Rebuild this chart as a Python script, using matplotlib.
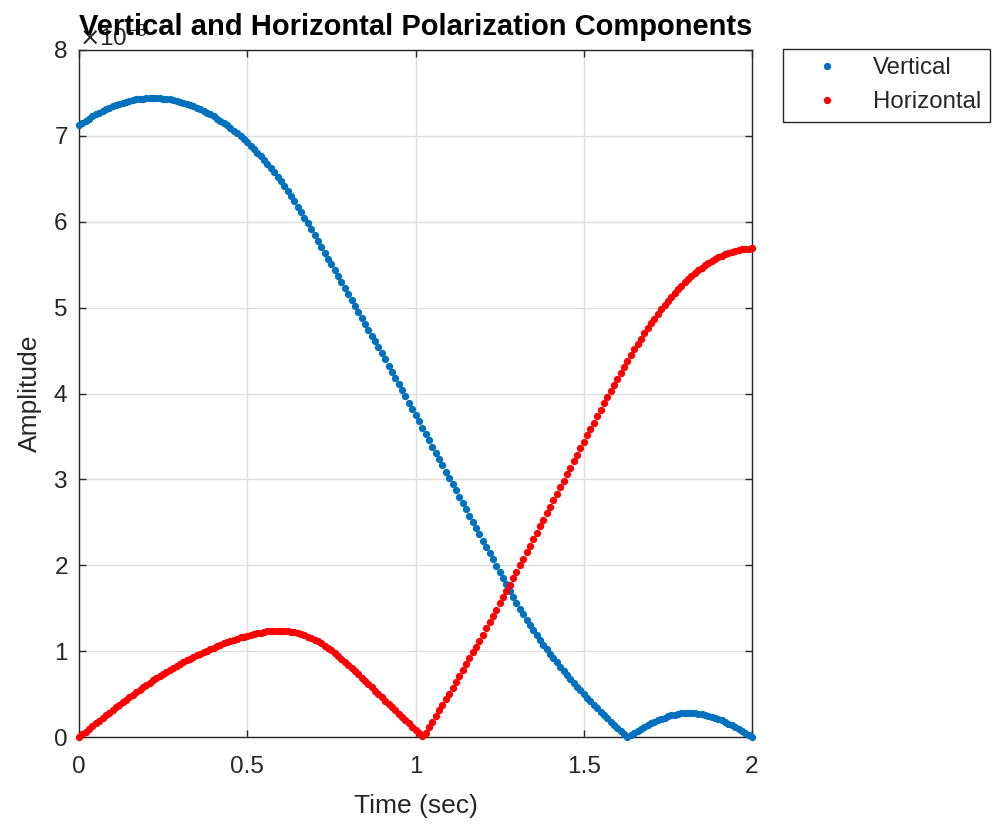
import matplotlib
matplotlib.use("Agg")
import matplotlib.pyplot as plt
import numpy as np

vertical = [
    7.121, 7.149, 7.176, 7.202, 7.226, 7.249, 7.271, 7.291, 7.311, 7.328,
    7.345, 7.360, 7.374, 7.387, 7.398, 7.408, 7.416, 7.424, 7.429, 7.434,
    7.437, 7.439, 7.440, 7.439, 7.437, 7.434, 7.429, 7.424, 7.416, 7.408,
    7.398, 7.387, 7.374, 7.360, 7.345, 7.328, 7.311, 7.291, 7.271, 7.249,
    7.226, 7.202, 7.176, 7.149, 7.121, 7.091, 7.060, 7.028, 6.994, 6.959,
    6.923, 6.885, 6.846, 6.806, 6.764, 6.721, 6.675, 6.627, 6.577, 6.525,
    6.471, 6.415, 6.357, 6.297, 6.236, 6.173, 6.109, 6.045, 5.980, 5.914,
    5.847, 5.779, 5.710, 5.641, 5.572, 5.503, 5.434, 5.365, 5.296, 5.227,
    5.158, 5.089, 5.020, 4.951, 4.882, 4.813, 4.744, 4.675, 4.606, 4.537,
    4.467, 4.397, 4.326, 4.255, 4.183, 4.111, 4.039, 3.966, 3.893, 3.820,
    3.747, 3.674, 3.601, 3.528, 3.455, 3.382, 3.309, 3.236, 3.163, 3.090,
    3.017, 2.944, 2.871, 2.798, 2.725, 2.652, 2.579, 2.506, 2.433, 2.360,
    2.287, 2.214, 2.141, 2.068, 1.995, 1.922, 1.849, 1.776, 1.704, 1.633,
    1.563, 1.495, 1.429, 1.365, 1.303, 1.243, 1.185, 1.129, 1.075, 1.022,
    0.970, 0.919, 0.869, 0.820, 0.772, 0.724, 0.677, 0.631, 0.586, 0.542,
    0.499, 0.457, 0.416, 0.375, 0.335, 0.295, 0.256, 0.217, 0.179, 0.141,
    0.104, 0.067, 0.030, 0.004, 0.026, 0.050, 0.073, 0.095, 0.117, 0.138,
    0.158, 0.177, 0.195, 0.211, 0.226, 0.240, 0.251, 0.261, 0.269, 0.275,
    0.279, 0.280, 0.279, 0.277, 0.272, 0.266, 0.258, 0.248, 0.238, 0.225,
    0.210, 0.193, 0.176, 0.157, 0.136, 0.115, 0.093, 0.070, 0.047, 0.024, 0.000,
]

horizontal = [
    0.000, 0.032, 0.064, 0.096, 0.128, 0.160, 0.191, 0.222, 0.253, 0.284,
    0.315, 0.345, 0.375, 0.405, 0.435, 0.465, 0.493, 0.521, 0.549, 0.577,
    0.605, 0.632, 0.658, 0.684, 0.710, 0.735, 0.759, 0.782, 0.805, 0.828,
    0.850, 0.871, 0.891, 0.911, 0.931, 0.950, 0.969, 0.987, 1.005, 1.022,
    1.040, 1.057, 1.073, 1.089, 1.105, 1.120, 1.134, 1.147, 1.159, 1.170,
    1.180, 1.190, 1.199, 1.208, 1.216, 1.223, 1.229, 1.234, 1.237, 1.239,
    1.238, 1.235, 1.231, 1.225, 1.218, 1.209, 1.198, 1.185, 1.170, 1.153,
    1.134, 1.113, 1.090, 1.065, 1.038, 1.009, 0.978, 0.946, 0.912, 0.877,
    0.841, 0.804, 0.767, 0.729, 0.691, 0.653, 0.615, 0.577, 0.539, 0.501,
    0.463, 0.425, 0.387, 0.349, 0.311, 0.273, 0.235, 0.197, 0.159, 0.121,
    0.083, 0.045, 0.008, 0.050, 0.115, 0.180, 0.245, 0.310, 0.375, 0.440,
    0.505, 0.572, 0.640, 0.708, 0.777, 0.846, 0.915, 0.984, 1.053, 1.123,
    1.193, 1.265, 1.337, 1.410, 1.483, 1.556, 1.629, 1.702, 1.775, 1.849,
    1.923, 1.998, 2.073, 2.149, 2.225, 2.301, 2.377, 2.453, 2.529, 2.605,
    2.681, 2.757, 2.833, 2.909, 2.985, 3.061, 3.136, 3.211, 3.286, 3.361,
    3.436, 3.511, 3.586, 3.661, 3.736, 3.811, 3.885, 3.958, 4.031, 4.103,
    4.174, 4.244, 4.313, 4.381, 4.448, 4.514, 4.578, 4.640, 4.701, 4.760,
    4.817, 4.873, 4.927, 4.980, 5.031, 5.080, 5.127, 5.172, 5.215, 5.257,
    5.297, 5.335, 5.371, 5.405, 5.437, 5.467, 5.495, 5.521, 5.545, 5.567,
    5.587, 5.605, 5.621, 5.636, 5.649, 5.660, 5.669, 5.677, 5.683, 5.687, 5.689,
]

series_names = ['Vertical', 'Horizontal']
x_ticks = [0, 0.5, 1, 1.5, 2]
x_tick_labels = ['0', '0.5', '1', '1.5', '2']
y_ticks = [0, 1, 2, 3, 4, 5, 6, 7, 8]
scale = 1e-3

GRAY = '#262626'

plt.rcParams['font.family'] = ['Liberation Sans', 'DejaVu Sans']

# sample times: 0 to 2 s, one sample per value
time = np.linspace(0, 2, len(vertical))

fig = plt.figure(figsize=(9.92, 8.25), dpi=100)
ax = fig.add_axes([79 / 992, 1 - 737 / 825, (752 - 79) / 992, (737 - 50) / 825])

ax.plot(time, np.array(vertical) * scale, '.', color='#0072BD', ms=8.5,
        label=series_names[0], clip_on=False, zorder=3)
ax.plot(time, np.array(horizontal) * scale, '.', color='#FF0000', ms=8.5,
        label=series_names[1], clip_on=False, zorder=4)

ax.set_xlim(0, 2)
ax.set_ylim(0, 8 * scale)
ax.set_xticks(x_ticks)
ax.set_xticklabels(x_tick_labels)
ax.set_yticks([v * scale for v in y_ticks])
ax.ticklabel_format(axis='y', style='sci', scilimits=(0, 0), useMathText=True)

ax.grid(True, color='#dfdfdf', linewidth=1.0)
ax.set_axisbelow(True)
for side in ax.spines.values():
    side.set_color(GRAY)
    side.set_linewidth(1.0)
ax.tick_params(direction='in', length=5, width=1.0, colors=GRAY,
               labelsize=17.6, top=True, right=True)
ax.tick_params(axis='x', pad=14)
ax.tick_params(axis='y', pad=8)
ax.yaxis.get_offset_text().set_fontsize(17.6)
ax.yaxis.get_offset_text().set_color(GRAY)

ax.set_xlabel('Time (sec)', fontsize=19, color=GRAY, labelpad=11)
ax.set_ylabel('Amplitude', fontsize=19, color=GRAY, labelpad=8)
ax.set_title('Vertical and Horizontal Polarization Components',
             fontsize=21, fontweight='bold', y=1.0, pad=11, zorder=5)

leg = ax.legend(loc='upper left',
                bbox_to_anchor=(783 / 992, 1 - 120 / 825, 207 / 992, 71 / 825),
                bbox_transform=fig.transFigure, mode='expand', fontsize=17.3,
                frameon=True, fancybox=False, edgecolor=GRAY, framealpha=1,
                handlelength=3.0, handletextpad=0.4, labelspacing=0.5,
                borderpad=0.35, borderaxespad=0)
leg.get_frame().set_linewidth(1.0)
for text in leg.get_texts():
    text.set_color(GRAY)

fig.savefig('out.png', dpi=100)
